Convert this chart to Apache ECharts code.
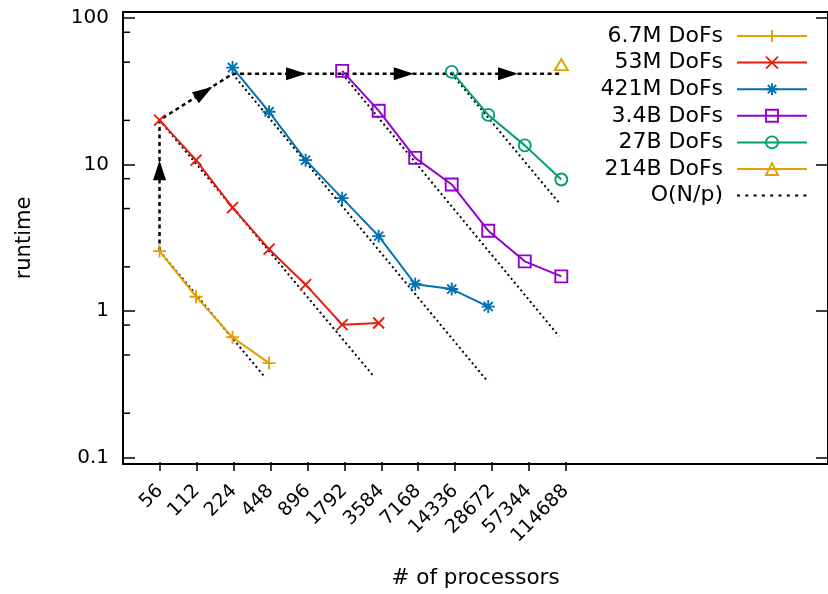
<!DOCTYPE html>
<html><head><meta charset="utf-8">
<script src="https://cdn.jsdelivr.net/npm/echarts@6/dist/echarts.min.js"></script>
<style>html,body{margin:0;padding:0;background:#fff}#c{width:828px;height:594px}</style>
</head><body><div id="c"></div>
<script>
// ---- data ----
const procLabels = ['56','112','224','448','896','1792','3584','7168','14336','28672','57344','114688'];
const procs = [56,112,224,448,896,1792,3584,7168,14336,28672,57344,114688];
const seriesNames = ['6.7M DoFs','53M DoFs','421M DoFs','3.4B DoFs','27B DoFs','214B DoFs'];
const seriesStart = [0,0,2,5,8,11]; // index into procs of first point
const runtime6_7M = [2.56,1.25,0.66,0.44];
const runtime53M  = [20.1,10.7,5.07,2.64,1.51,0.805,0.826];
const runtime421M = [45.9,22.9,10.7,5.89,3.24,1.52,1.41,1.07];
const runtime3_4B = [43.6,23.3,11.1,7.3,3.53,2.18,1.72];
const runtime27B  = [42.9,21.8,13.5,7.9];
const runtime214B = [48.1];
const refName = 'O(N/p)';
const refLines = [
  [[56,2.56],[403,0.362]],
  [[56,20.1],[3246,0.359]],
  [[224,41.6],[28555,0.327]],
  [[1792,41.6],[109650,0.672]],
  [[14336,41.6],[109650,5.48]]
];
const arrowPath = [[56,2.56],[56,20.1],[224,41.6],[1792,41.6],[14336,41.6],[114688,41.6]];
const arrowTips = [[56,10.7],[152.5,33.8],[904,41.6],[6973,41.6],[50480,41.6]];
const yMajorTicks = [0.1,1,10,100];
const yMinorTicks = [0.2,0.5,0.8,2,5,8,20,50,80];
const xMin = 28, xMax = 18.1e6, yMin = 0.09, yMax = 110;

// ---- styles ----
const colors = ['#E69F00','#E51E10','#0072B2','#9400D3','#009E73','#E69F00'];
const symbols = [
  'path://M0,5 L10,5 M5,0 L5,10',
  'path://M0,0 L10,10 M10,0 L0,10',
  'path://M0,5 L10,5 M5,0 L5,10 M1.5,1.5 L8.5,8.5 M8.5,1.5 L1.5,8.5',
  'rect','circle','triangle'
];
const symbolSizes = [13,11,13,12,12,[13,11]];
const FONT = 'DejaVu Sans';
const allValues = [runtime6_7M,runtime53M,runtime421M,runtime3_4B,runtime27B,runtime214B];

const series = [];
refLines.forEach(function(seg){
  series.push({type:'line', name:refName, data:seg, symbol:'circle', showSymbol:false,
    itemStyle:{color:'transparent'}, lineStyle:{color:'#000', width:2, type:[2,3]},
    silent:true, z:1});
});
series.push({type:'line', name:'arrows', data:arrowPath, symbol:'none',
  lineStyle:{color:'#000', width:2.5, type:[4,3.5]}, silent:true, z:2});
series.push({type:'lines', coordinateSystem:'cartesian2d', polyline:false, silent:true, z:3,
  data: arrowTips.map(function(t,i){return {coords:[arrowPath[i], t]};}),
  symbol:['none','path://M20,20 L26.5,40 L13.5,40 Z M0,0 L0,0 M40,0 L40,0'],
  symbolSize:40,
  lineStyle:{color:'#000', width:0, opacity:1}});
allValues.forEach(function(vals, k){
  const xs = procs.slice(seriesStart[k], seriesStart[k] + vals.length);
  series.push({type:'line', name:seriesNames[k], data: vals.map(function(v,i){return [xs[i], v];}),
    symbol:symbols[k], symbolSize:symbolSizes[k], showSymbol:true,
    itemStyle:{color:'transparent', borderColor:colors[k], borderWidth:1.9},
    lineStyle:{color:colors[k], width:2}, z:5});
});
series.push({type:'custom', silent:true, z:6, clip:false,
  data: yMinorTicks.map(function(v){return [xMin, v];}),
  renderItem: function(params, api){
    const p = api.coord([api.value(0), api.value(1)]);
    return {type:'line', shape:{x1:p[0], y1:p[1], x2:p[0]+7, y2:p[1]}, style:{stroke:'#000', lineWidth:1.5}};
  }});

const legendData = seriesNames.map(function(n,k){
  return {name:n, itemStyle:{color:'transparent', borderColor:colors[k], borderWidth:1.9},
          lineStyle:{color:colors[k], width:2}};
});
legendData.push({name:refName, itemStyle:{color:'transparent', borderColor:'transparent', borderWidth:0},
                 lineStyle:{color:'#000', width:2, type:[3,5.3]}});

function majorOf(v){ return yMajorTicks.find(function(t){return Math.abs(Math.log10(v) - Math.log10(t)) < 1e-6;}); }

const option = {
  animation:false,
  backgroundColor:'#fff',
  textStyle:{fontFamily:FONT, color:'#000'},
  grid:[
    {left:123, right:-7, top:12, bottom:123, show:true, borderColor:'#000', borderWidth:2, containLabel:false},
    {left:160, right:262.3, top:12, bottom:123, show:false}
  ],
  legend:{
    data:legendData, orient:'vertical', align:'right', right:20, top:25, padding:0,
    itemWidth:70, itemHeight:15, itemGap:4.6, selectedMode:false,
    textStyle:{fontFamily:FONT, fontSize:22, color:'#000', lineHeight:20, padding:[0,9,0,0]}
  },
  xAxis:[
    {type:'log', logBase:2, min:xMin, max:xMax, gridIndex:0,
     name:'# of processors', nameLocation:'middle', nameGap:103,
     nameTextStyle:{fontFamily:FONT, fontSize:21.5, color:'#000'},
     axisLine:{show:true, lineStyle:{color:'#000', width:2}},
     axisTick:{show:false}, axisLabel:{show:false}, splitLine:{show:false}, minorTick:{show:false}},
    {type:'category', gridIndex:1, data:procLabels, boundaryGap:false,
     axisLine:{show:false},
     axisTick:{show:true, inside:true, length:9, lineStyle:{color:'#000', width:1.5}},
     axisLabel:{rotate:45, margin:17, fontFamily:FONT, fontSize:19, color:'#000', interval:0},
     splitLine:{show:false}}
  ],
  yAxis:[
    {type:'log', logBase:10, min:yMin, max:yMax, gridIndex:0,
     name:'runtime', nameLocation:'middle', nameGap:88,
     nameTextStyle:{fontFamily:FONT, fontSize:21, color:'#000'},
     axisLine:{show:true, lineStyle:{color:'#000', width:2}},
     axisTick:{show:true, inside:true, length:12, lineStyle:{color:'#000', width:1.5}},
     axisLabel:{margin:14, fontFamily:FONT, fontSize:20, color:'#000',
       showMinLabel:false, showMaxLabel:false,
       formatter:function(v){ const m = majorOf(v); return m === undefined ? '' : String(m); }},
     splitLine:{show:false}, minorTick:{show:false}},
    {type:'log', logBase:10, min:yMin, max:yMax, gridIndex:0, position:'right',
     axisLine:{show:false},
     axisTick:{show:true, inside:true, length:12, lineStyle:{color:'#000', width:1.5}},
     axisLabel:{show:false}, splitLine:{show:false}},
    {type:'value', gridIndex:1, show:false}
  ],
  series:series
};
const chart = echarts.init(document.getElementById('c'), null, {renderer:'canvas'});
chart.setOption(option);
</script></body></html>
